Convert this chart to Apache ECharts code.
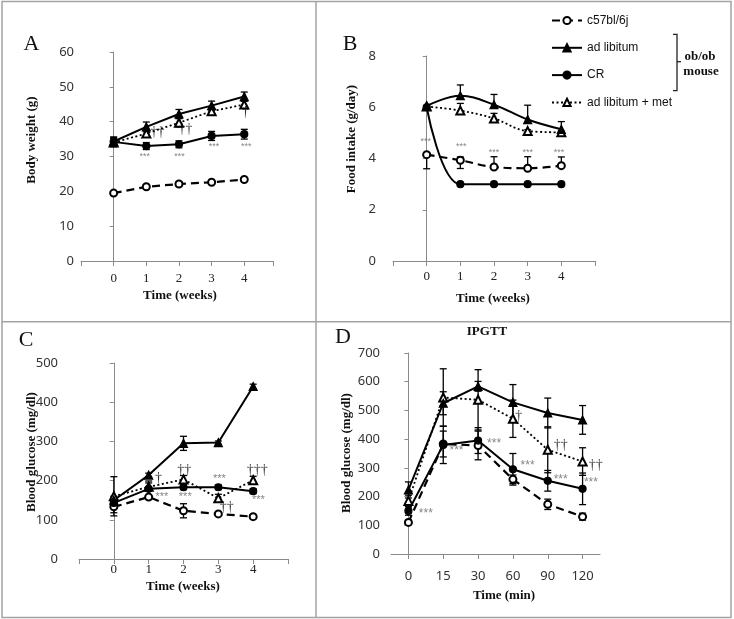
<!DOCTYPE html>
<html><head><meta charset="utf-8">
<script src="https://cdn.jsdelivr.net/npm/echarts@6/dist/echarts.min.js"></script>
<style>html,body{margin:0;padding:0;background:#fff}#c{width:734px;height:619px}</style>
</head><body><div id="c"></div>
<script>
// ---------- data ----------
const weeks = [0, 1, 2, 3, 4];
const ipgttTimes = ['0', '15', '30', '60', '90', '120'];
const ipgttIdx = [0, 1, 2, 3, 4, 5];
const legendNames = ['c57bl/6j', 'ad libitum', 'CR', 'ad libitum + met'];

// Panel A: body weight (g)
const A_c57 = [19.5, 21.3, 22.1, 22.6, 23.4];
const A_c57_err = [0.5, 0.6, 0.6, 0.5, 0.5];
const A_adlib = [34.3, 38.5, 42.2, 44.6, 47.2];
const A_adlib_err = [1.3, 1.4, 1.3, 1.3, 1.3];
const A_cr = [34.2, 33.0, 33.5, 35.9, 36.4];
const A_cr_err = [1.3, 1.0, 1.0, 1.3, 1.4];
const A_met = [34.0, 36.6, 39.7, 43.0, 44.9];
const A_met_err = [1.2, 1.0, 1.2, 0.8, 1.0];
const A_annot = [[0.95, 30.0, '***'], [2.02, 30.0, '***'], [3.07, 32.8, '***'], [4.06, 32.8, '***'],
                 [1.34, 36.8, '††'], [2.2, 37.9, '††'], [4.04, 42.8, '†']];

// Panel B: food intake (g/day)
const B_c57 = [4.15, 3.93, 3.67, 3.62, 3.72];
const B_c57_up = [0.07, 0.13, 0.4, 0.45, 0.34];
const B_c57_down = [0.55, 0.32, 0, 0, 0];
const B_adlib = [6.05, 6.45, 6.1, 5.52, 5.14];
const B_adlib_up = [0, 0.42, 0.4, 0.56, 0.3];
const B_adlib_down = [0, 0, 0, 0, 0];
const B_cr = [6.0, 3.0, 3.0, 3.0, 3.0];
const B_met = [6.03, 5.87, 5.56, 5.07, 5.02];
const B_met_up = [0, 0.28, 0.2, 0.05, 0.05];
const B_met_down = [0, 0, 0.05, 0.05, 0.05];
const B_annot = [[-0.03, 4.65, '***'], [1.03, 4.47, '***'], [2.0, 4.24, '***'], [3.0, 4.24, '***'], [3.93, 4.24, '***']];

// Panel C: blood glucose (mg/dl)
const C_c57 = [133, 158, 123, 115, 108];
const C_c57_err = [15, 5, 18, 4, 5];
const C_adlib = [150, 214, 295, 297, 440];
const C_adlib_err = [10, 5, 18, 4, 6];
const C_cr = [143, 179, 183, 183, 173];
const C_cr_err = [10, 20, 6, 6, 6];
const C_met = [160, 184, 203, 155, 201];
const C_met_err = [50, 10, 10, 10, 10];
const C_annot = [[1.28, 205, '†'], [1.38, 159, '***'], [2.02, 227, '††'], [2.05, 159, '***'],
                 [3.03, 205, '***'], [3.24, 131, '††'], [4.12, 227, '†††'], [4.15, 150, '***']];

// Panel D: IPGTT blood glucose (mg/dl)
const D_c57 = [110, 383, 378, 260, 173, 130];
const D_c57_err = [8, 45, 50, 15, 18, 12];
const D_adlib = [223, 525, 584, 528, 491, 467];
const D_adlib_err = [28, 40, 17, 62, 52, 50];
const D_cr = [150, 380, 395, 295, 255, 227];
const D_cr_err = [15, 65, 45, 55, 36, 55];
const D_met = [185, 545, 537, 471, 363, 322];
const D_met_err = [20, 100, 105, 65, 80, 48];
const D_annot = [[0.5, 142, '***'], [1.38, 359, '***'], [2.46, 383, '***'], [3.42, 308, '***'],
                 [4.37, 260, '***'], [5.24, 249, '***'], [3.17, 479, '†'], [4.37, 377, '††'], [5.38, 310, '††']];

// ---------- helpers ----------
const SANS = 'Noto Sans';
const SERIF = 'Liberation Serif';
const AXC = '#8a8a8a';

const styles = {
  c57:   { symbol: 'emptyCircle',   symbolSize: 7, lineStyle: { type: [8, 5], width: 2.2 } },
  adlib: { symbol: 'triangle',      symbolSize: 8, lineStyle: { type: 'solid', width: 2 } },
  cr:    { symbol: 'circle',        symbolSize: 7, lineStyle: { type: 'solid', width: 2 } },
  met:   { symbol: 'emptyTriangle', symbolSize: 8, lineStyle: { type: [2, 2.5], width: 1.8 } }
};

function errRender(params, api) {
  const x = api.value(0), lo = api.value(1), hi = api.value(2), v = api.value(3);
  if (hi - lo <= 0) return null;
  const pH = api.coord([x, hi]), pL = api.coord([x, lo]);
  const st = { stroke: '#000', lineWidth: 1.3 };
  const w = 3.5;
  const ch = [{ type: 'line', shape: { x1: pH[0], y1: pH[1], x2: pL[0], y2: pL[1] }, style: st }];
  if (hi > v) ch.push({ type: 'line', shape: { x1: pH[0] - w, y1: pH[1], x2: pH[0] + w, y2: pH[1] }, style: st });
  if (lo < v) ch.push({ type: 'line', shape: { x1: pL[0] - w, y1: pL[1], x2: pL[0] + w, y2: pL[1] }, style: st });
  return { type: 'group', children: ch };
}

const series = [];
function addPanel(xi, yi, xs, groups, smooth) {
  groups.forEach(g => {
    const st = styles[g.kind];
    series.push({
      type: 'line', name: g.name, xAxisIndex: xi, yAxisIndex: yi,
      data: xs.map((x, i) => [x, g.v[i]]), smooth: smooth,
      symbol: st.symbol, symbolSize: st.symbolSize, showSymbol: true,
      lineStyle: Object.assign({ color: '#000' }, st.lineStyle),
      itemStyle: { color: '#000', borderColor: '#000', borderWidth: 1.2 },
      z: 4, animation: false, silent: true
    });
    if (g.up) {
      const down = g.down || g.up;
      series.push({
        type: 'custom', xAxisIndex: xi, yAxisIndex: yi, renderItem: errRender,
        data: xs.map((x, i) => [x, g.v[i] - down[i], g.v[i] + g.up[i], g.v[i]]),
        z: 3, silent: true, animation: false
      });
    }
  });
}
function addAnnot(xi, yi, list, starSize) {
  series.push({
    type: 'scatter', xAxisIndex: xi, yAxisIndex: yi, symbolSize: 1,
    itemStyle: { color: 'rgba(0,0,0,0)' }, silent: true, animation: false, z: 5,
    data: list.map(a => ({
      value: [a[0], a[1]], name: a[2],
      label: a[2].indexOf('*') >= 0
        ? { fontFamily: 'Liberation Sans', fontSize: starSize, color: '#666' }
        : { fontFamily: SERIF, fontSize: 14, color: '#000' }
    })),
    label: { show: true, position: 'inside', formatter: '{b}' }
  });
}

addPanel(0, 0, weeks, [
  { name: legendNames[0], kind: 'c57', v: A_c57, up: A_c57_err },
  { name: legendNames[3], kind: 'met', v: A_met, up: A_met_err },
  { name: legendNames[2], kind: 'cr', v: A_cr, up: A_cr_err },
  { name: legendNames[1], kind: 'adlib', v: A_adlib, up: A_adlib_err }
], false);
addAnnot(0, 0, A_annot, 9);

addPanel(1, 1, weeks, [
  { name: legendNames[0], kind: 'c57', v: B_c57, up: B_c57_up, down: B_c57_down },
  { name: legendNames[3], kind: 'met', v: B_met, up: B_met_up, down: B_met_down },
  { name: legendNames[2], kind: 'cr', v: B_cr },
  { name: legendNames[1], kind: 'adlib', v: B_adlib, up: B_adlib_up, down: B_adlib_down }
], 0.4);
addAnnot(1, 1, B_annot, 9);

addPanel(2, 2, weeks, [
  { name: legendNames[0], kind: 'c57', v: C_c57, up: C_c57_err },
  { name: legendNames[3], kind: 'met', v: C_met, up: C_met_err },
  { name: legendNames[2], kind: 'cr', v: C_cr, up: C_cr_err },
  { name: legendNames[1], kind: 'adlib', v: C_adlib, up: C_adlib_err }
], false);
addAnnot(2, 2, C_annot, 11);

addPanel(4, 3, ipgttIdx, [
  { name: legendNames[0], kind: 'c57', v: D_c57, up: D_c57_err },
  { name: legendNames[3], kind: 'met', v: D_met, up: D_met_err },
  { name: legendNames[2], kind: 'cr', v: D_cr, up: D_cr_err },
  { name: legendNames[1], kind: 'adlib', v: D_adlib, up: D_adlib_err }
], false);
addAnnot(4, 3, D_annot, 12);

function weekAxis(grid, max, margin) {
  return {
    type: 'value', gridIndex: grid, min: -1, max: max, interval: 1,
    axisLine: { show: true, lineStyle: { color: AXC, width: 1 } },
    axisTick: { show: true, length: 5, lineStyle: { color: AXC } },
    splitLine: { show: false },
    axisLabel: {
      margin: margin, fontFamily: SERIF, fontSize: 13, color: '#222',
      formatter: v => (v >= 0 && v <= 4 && Number.isInteger(v)) ? String(v) : ''
    }
  };
}
function valAxis(grid, max, interval, margin) {
  return {
    type: 'value', gridIndex: grid, min: 0, max: max, interval: interval,
    axisLine: { show: true, lineStyle: { color: AXC, width: 1 } },
    axisTick: { show: true, length: 4, lineStyle: { color: AXC } },
    splitLine: { show: false },
    axisLabel: { margin: margin, fontFamily: SANS, fontSize: 13, color: '#333' }
  };
}

const titleBold = { fontFamily: SERIF, fontSize: 13, fontWeight: 'bold', fill: '#111' };
function txt(x, y, text, style, rot) {
  return {
    type: 'text', x: x, y: y, rotation: rot || 0,
    style: Object.assign({ text: text, align: 'center', verticalAlign: 'middle' }, style)
  };
}
const letter = { fontFamily: SERIF, fontSize: 22, fill: '#111' };
const BC = '#a3a3a3';
const graphics = [
  { type: 'rect', shape: { x: 2, y: 1.5, width: 729, height: 616 }, style: { fill: 'none', stroke: BC, lineWidth: 1.5 } },
  { type: 'line', shape: { x1: 316, y1: 1.5, x2: 316, y2: 617.5 }, style: { stroke: BC, lineWidth: 1.5 } },
  { type: 'line', shape: { x1: 2, y1: 321.7, x2: 731, y2: 321.7 }, style: { stroke: BC, lineWidth: 1.5 } },
  txt(31.5, 44, 'A', letter), txt(350, 44, 'B', letter), txt(26, 340, 'C', letter), txt(343, 337, 'D', letter),
  txt(32, 140, 'Body weight (g)', titleBold, Math.PI / 2),
  txt(352, 139, 'Food intake (g/day)', titleBold, Math.PI / 2),
  txt(32, 452, 'Blood glucose (mg/dl)', titleBold, Math.PI / 2),
  txt(347, 453, 'Blood glucose (mg/dl)', titleBold, Math.PI / 2),
  txt(180, 296, 'Time (weeks)', titleBold), txt(493, 299, 'Time (weeks)', titleBold),
  txt(183, 587, 'Time (weeks)', titleBold), txt(504, 596, 'Time (min)', titleBold),
  txt(487, 332, 'IPGTT', titleBold),
  { type: 'polyline', shape: { points: [[673, 34.3], [677, 34.3], [677, 90.7], [673, 90.7]] }, style: { fill: 'none', stroke: '#222', lineWidth: 1.3 } },
  { type: 'line', shape: { x1: 677, y1: 61.7, x2: 681, y2: 61.7 }, style: { stroke: '#222', lineWidth: 1.3 } },
  txt(700, 57, 'ob/ob', titleBold), txt(701, 72, 'mouse', titleBold)
];

const option = {
  animation: false,
  backgroundColor: '#fff',
  legend: {
    data: legendNames, orient: 'vertical', left: 546, top: 9.5,
    itemWidth: 30, itemHeight: 9, itemGap: 15.3, selectedMode: false,
    textStyle: { fontFamily: 'Liberation Sans', fontSize: 12, color: '#111' }
  },
  grid: [
    { left: 81, top: 52, width: 192, height: 209 },
    { left: 393, top: 56, width: 202, height: 205 },
    { left: 79, top: 363, width: 209, height: 196 },
    { left: 391, top: 353, width: 209, height: 201 }
  ],
  xAxis: [
    weekAxis(0, 4.88, 11.5),
    weekAxis(1, 5, 9.5),
    weekAxis(2, 5, 4),
    {
      type: 'category', gridIndex: 3, data: ipgttTimes, boundaryGap: true,
      axisLine: { show: true, lineStyle: { color: AXC } },
      axisTick: { show: true, alignWithLabel: true, length: 5, lineStyle: { color: AXC } },
      axisLabel: { margin: 16, fontFamily: SANS, fontSize: 13, color: '#333' }
    },
    { type: 'value', gridIndex: 3, min: -0.5, max: 5.5, show: false }
  ],
  yAxis: [
    valAxis(0, 60, 10, 7),
    valAxis(1, 8, 2, 17),
    valAxis(2, 500, 100, 21),
    valAxis(3, 700, 100, 11)
  ],
  graphic: graphics,
  series: series
};
const chart = echarts.init(document.getElementById('c'), null, { renderer: 'canvas' });
chart.setOption(option);
</script>
</body></html>
